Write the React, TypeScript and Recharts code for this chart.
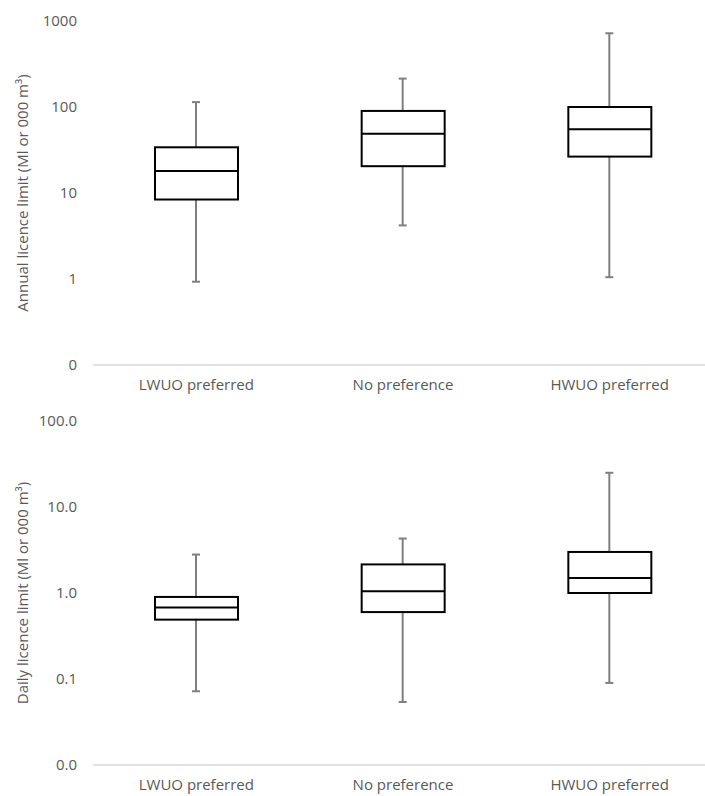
import React from 'react';
import { ComposedChart, Bar, Scatter, XAxis, YAxis } from 'recharts';

// categories on both panels
const categories = ['LWUO preferred', 'No preference', 'HWUO preferred'];

// Annual licence limit (Ml or 000 m3)
const annualMin = [0.93, 4.2, 1.05];
const annualQ1 = [8.4, 20.5, 26.5];
const annualMedian = [18, 49, 55];
const annualQ3 = [34, 90, 100];
const annualMax = [114, 214, 720];
const annualTicks = [0.1, 1, 10, 100, 1000];

// Daily licence limit (Ml or 000 m3)
const dailyMin = [0.072, 0.054, 0.09];
const dailyQ1 = [0.49, 0.6, 1.0];
const dailyMedian = [0.68, 1.05, 1.49];
const dailyQ3 = [0.9, 2.15, 3.0];
const dailyMax = [2.8, 4.3, 25];
const dailyTicks = [0.01, 0.1, 1, 10, 100];

const BOX_WIDTH = 83;
const FONT = "'Open Sans', sans-serif";
const TEXT_COLOR = '#595959';

const buildRows = (min: number[], q1: number[], med: number[], q3: number[], max: number[]) =>
  categories.map((cat, i) => ({
    cat,
    whisker: [min[i], max[i]],
    box: [q1[i], q3[i]],
    median: med[i],
  }));

const annualRows = buildRows(annualMin, annualQ1, annualMedian, annualQ3, annualMax);
const dailyRows = buildRows(dailyMin, dailyQ1, dailyMedian, dailyQ3, dailyMax);

const Whisker = (props: any) => {
  const { x, y, width, height } = props;
  const cx = x + width / 2;
  return (
    <g stroke="#7f7f7f" strokeWidth={2}>
      <line x1={cx} x2={cx} y1={y} y2={y + height} />
      <line x1={cx - 4} x2={cx + 4} y1={y} y2={y} />
      <line x1={cx - 4} x2={cx + 4} y1={y + height} y2={y + height} />
    </g>
  );
};

const Box = (props: any) => {
  const { x, y, width, height } = props;
  return <rect x={x} y={y} width={width} height={height} fill="#fff" stroke="#000" strokeWidth={2} />;
};

const Median = (props: any) => {
  const { cx, cy } = props;
  return <line x1={cx - BOX_WIDTH / 2} x2={cx + BOX_WIDTH / 2} y1={cy} y2={cy} stroke="#000" strokeWidth={2} />;
};

type PanelProps = {
  rows: any[];
  ticks: number[];
  digits: number;
  title: string;
};

const Panel = ({ rows, ticks, digits, title }: PanelProps) => (
  <ComposedChart width={713} height={400} data={rows} margin={{ top: 21, right: 0, bottom: 0, left: 0 }}>
    <XAxis
      xAxisId="main"
      dataKey="cat"
      axisLine={{ stroke: '#d9d9d9', strokeWidth: 1.5 }}
      tickLine={false}
      tickSize={0}
      tickMargin={14}
      height={35}
      tick={{ fill: TEXT_COLOR, fontSize: 15, fontFamily: FONT }}
    />
    <XAxis xAxisId="overlay" dataKey="cat" hide />
    <YAxis
      scale="log"
      domain={[ticks[0], ticks[ticks.length - 1]]}
      ticks={ticks}
      width={93}
      axisLine={false}
      tickLine={false}
      tickSize={0}
      tickMargin={16}
      tickFormatter={(v: number) => v.toFixed(digits)}
      tick={{ fill: TEXT_COLOR, fontSize: 15, fontFamily: FONT }}
      label={{
        value: title,
        angle: -90,
        position: 'insideLeft',
        offset: 23,
        style: { textAnchor: 'middle', fill: TEXT_COLOR, fontSize: 15, fontFamily: FONT },
      }}
    />
    <Bar xAxisId="main" dataKey="whisker" barSize={10} shape={<Whisker />} isAnimationActive={false} />
    <Bar xAxisId="overlay" dataKey="box" barSize={BOX_WIDTH} shape={<Box />} isAnimationActive={false} />
    <Scatter xAxisId="main" dataKey="median" shape={<Median />} isAnimationActive={false} />
  </ComposedChart>
);

export default function App() {
  return (
    <div
      style={{
        position: 'absolute',
        left: 0,
        top: 0,
        width: 705,
        height: 796,
        overflow: 'hidden',
        background: '#fff',
      }}
    >
      <Panel rows={annualRows} ticks={annualTicks} digits={0} title="Annual licence limit (Ml or 000 m³)" />
      <Panel rows={dailyRows} ticks={dailyTicks} digits={1} title="Daily licence limit (Ml or 000 m³)" />
    </div>
  );
}
